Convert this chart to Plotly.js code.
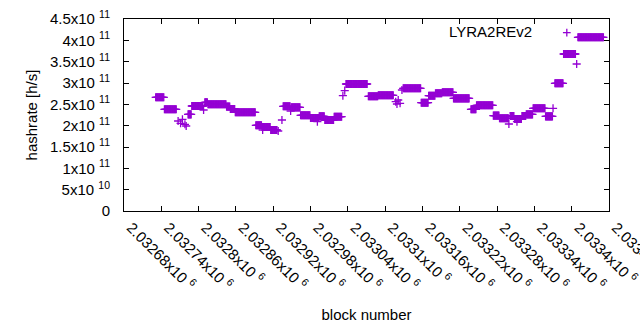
<!DOCTYPE html>
<html>
<head>
<meta charset="utf-8">
<script src="https://cdn.plot.ly/plotly-3.0.1.min.js"></script>
<style>html,body{margin:0;padding:0;background:#fff}#chart{width:640px;height:330px}</style>
</head>
<body>
<div id="chart"></div>
<script>
// Runs of consecutive blocks sharing the same estimated hashrate
const runStart = [2032731,2032745,2032783,2032789,2032810,2032815,2032845,2032851,2032859,2032892,2032902,2032916,2032936,2032949,2032964,2032980,2032994,2033003,2033018,2033037,2033073,2033089,2033129,2033158,2033170,2033181,2033192,2033210,2033238,2033247,2033274,2033284,2033301,2033308,2033320,2033327,2033338,2033358,2033373,2033387,2033410];
const runEnd   = [2032744,2032764,2032788,2032807,2032814,2032844,2032850,2032858,2032891,2032901,2032915,2032926,2032947,2032963,2032979,2032993,2033002,2033017,2033030,2033071,2033088,2033113,2033157,2033169,2033180,2033191,2033209,2033235,2033246,2033273,2033283,2033298,2033307,2033319,2033326,2033337,2033357,2033369,2033386,2033406,2033451];
const runValue = [2.665e11,2.384e11,2.266e11,2.461e11,2.548e11,2.501e11,2.445e11,2.391e11,2.313e11,2.009e11,1.969e11,1.899e11,2.454e11,2.430e11,2.243e11,2.180e11,2.219e11,2.133e11,2.210e11,2.977e11,2.688e11,2.712e11,2.876e11,2.538e11,2.702e11,2.759e11,2.782e11,2.641e11,2.384e11,2.477e11,2.234e11,2.173e11,2.227e11,2.156e11,2.227e11,2.266e11,2.407e11,2.219e11,2.993e11,3.680e11,4.071e11];
// Isolated blocks
const singleBlock = [2032767,2032771,2032774,2032778,2032780,2032808,2032903,2032928,2032934,2032948,2032991,2033032,2033035,2033117,2033119,2033121,2033124,2033127,2033299,2033312,2033370,2033408];
const singleValue = [2.109e11,2.056e11,2.149e11,2.032e11,1.992e11,2.367e11,1.898e11,1.875e11,2.133e11,2.344e11,2.093e11,2.702e11,2.820e11,2.562e11,2.508e11,2.602e11,2.524e11,2.836e11,2.039e11,2.093e11,2.407e11,3.445e11];

const xTickVals = [2032680,2032740,2032800,2032860,2032920,2032980,2033040,2033100,2033160,2033220,2033280,2033340,2033400,2033460];
const xTickText = ['2.03268x10 <sup>6</sup>','2.03274x10 <sup>6</sup>','2.0328x10 <sup>6</sup>','2.03286x10 <sup>6</sup>','2.03292x10 <sup>6</sup>','2.03298x10 <sup>6</sup>','2.03304x10 <sup>6</sup>','2.0331x10 <sup>6</sup>','2.03316x10 <sup>6</sup>','2.03322x10 <sup>6</sup>','2.03328x10 <sup>6</sup>','2.03334x10 <sup>6</sup>','2.0334x10 <sup>6</sup>','2.03346x10 <sup>6</sup>'];
const yTickVals = [0,5e10,1e11,1.5e11,2e11,2.5e11,3e11,3.5e11,4e11,4.5e11];
const yTickText = ['0','5x10 <sup>10</sup>','1x10 <sup>11</sup>','1.5x10 <sup>11</sup>','2x10 <sup>11</sup>','2.5x10 <sup>11</sup>','3x10 <sup>11</sup>','3.5x10 <sup>11</sup>','4x10 <sup>11</sup>','4.5x10 <sup>11</sup>'];
const seriesName = 'LYRA2REv2';

const pts = [];
for (let i = 0; i < runStart.length; i++) {
  for (let b = runStart[i]; b <= runEnd[i]; b++) pts.push([b, runValue[i]]);
}
for (let i = 0; i < singleBlock.length; i++) pts.push([singleBlock[i], singleValue[i]]);
pts.sort((a, b) => a[0] - b[0]);

const purple = '#9400d3';
const font = {family: 'Liberation Sans, Arial, sans-serif', size: 15, color: '#000'};

const trace = {
  x: pts.map(p => p[0]), y: pts.map(p => p[1]),
  type: 'scatter', mode: 'markers', name: seriesName, showlegend: false,
  marker: {symbol: 'cross-thin', size: 5.8, color: purple, line: {color: purple, width: 1.3}}
};

const axisCommon = {
  showline: true, linecolor: '#000', linewidth: 1, mirror: 'allticks',
  ticks: 'inside', ticklen: 5, tickcolor: '#000', tickwidth: 1,
  showgrid: false, zeroline: false, tickfont: font, tickmode: 'array',
  ticklabeloverflow: 'allow'
};

const layout = {
  width: 640, height: 330,
  margin: {l: 124, r: 31, t: 19, b: 119},
  paper_bgcolor: '#fff', plot_bgcolor: '#fff',
  font: font,
  xaxis: Object.assign({}, axisCommon, {
    range: [2032680, 2033460], tickvals: xTickVals, ticktext: xTickText,
    tickangle: 45, ticklabelstandoff: 1, ticklabelshift: 7,
    title: {text: 'block number', font: font, standoff: 16}
  }),
  yaxis: Object.assign({}, axisCommon, {
    range: [0, 4.5e11], tickvals: yTickVals, ticktext: yTickText,
    ticklabelstandoff: 10,
    title: {text: 'hashrate [h/s]', font: font, standoff: 8}
  }),
  annotations: [{
    xref: 'paper', yref: 'paper', x: 0.845, y: 0.9375, xanchor: 'right', yanchor: 'middle',
    text: seriesName, showarrow: false, font: font
  }],
  shapes: [
    {type: 'line', xref: 'paper', yref: 'paper', x0: 0.905, x1: 0.921, y0: 0.929, y1: 0.929, line: {color: purple, width: 1.3}},
    {type: 'line', xref: 'paper', yref: 'paper', x0: 0.913, x1: 0.913, y0: 0.909, y1: 0.949, line: {color: purple, width: 1.3}}
  ]
};

Plotly.newPlot('chart', [trace], layout, {staticPlot: true, displayModeBar: false});
</script>
</body>
</html>
